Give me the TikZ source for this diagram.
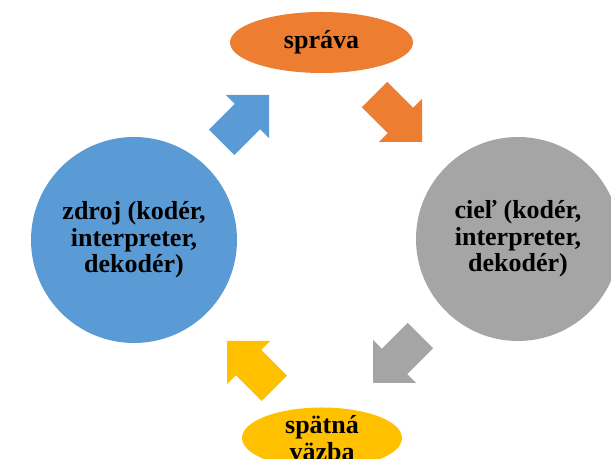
\documentclass[tikz,border=0pt]{standalone}
\usepackage{fontspec}
\setmainfont{Liberation Serif}
\usetikzlibrary{shapes.geometric}
\definecolor{zdrojblue}{HTML}{5B9BD5}
\definecolor{spravaorange}{HTML}{ED7D31}
\definecolor{cielgray}{HTML}{A5A5A5}
\definecolor{vazbayellow}{HTML}{FFC000}
\begin{document}
\begin{tikzpicture}[x=0.75pt,y=0.75pt]
			\newcommand{\mytext}{%
				\fontsize{19.5}{20}\selectfont\bfseries%
			}\newcommand{\myblockarrow}[3]{%
				\fill [#1,shift={(#2)},rotate=#3] (0,0) -- (-30.5,30.5) -- (-30.5,18) -- (-67,18) -- (-67,-18) -- (-30.5,-18) -- (-30.5,-30.5) -- cycle;%
			}%Page frame
			\clip (0,0) rectangle (611,459);
			%Centers of the two circles and the two ellipses
			\coordinate (centerZdroj) at (134,219);
			\coordinate (centerCiel) at (518,220);
			\coordinate (centerSprava) at (321.5,416.5);
			\coordinate (centerVazba) at (322,21);
			%The circles
			\node [circle,fill=zdrojblue,minimum size=154.5pt,inner sep=0pt] (zdroj) at (centerZdroj) {};
			\node [circle,fill=cielgray,minimum size=153pt,inner sep=0pt] (ciel) at (centerCiel) {};
			\node [align=center,inner sep=0pt,font=\mytext] (zdrojtext) at (zdroj.center) {zdroj (kodér,\\interpreter,\\dekodér)};
			\node [align=center,inner sep=0pt,font=\mytext] (cieltext) at (ciel.center) {cieľ (kodér,\\interpreter,\\dekodér)};
			%The ellipses
			\node [ellipse,fill=spravaorange,minimum width=137.25pt,minimum height=45.75pt,inner sep=0pt] (sprava) at (centerSprava) {};
			\node [ellipse,fill=vazbayellow,minimum width=120pt,minimum height=45.75pt,inner sep=0pt] (vazba) at (centerVazba) {};
			\node [align=center,inner sep=0pt,font=\mytext] (spravatext) at (sprava.center) {správa};
			\node [align=center,inner sep=0pt,font=\mytext] (vazbatext) at (vazba.center) {spätná\\väzba};
			%Tips of the block arrows
			\coordinate (tipBlue) at (269,364);
			\coordinate (tipOrange) at (422,317);
			\coordinate (tipGray) at (373,76);
			\coordinate (tipYellow) at (227,118);
			\myblockarrow{zdrojblue}{tipBlue}{45}
			\myblockarrow{spravaorange}{tipOrange}{-45}
			\myblockarrow{cielgray}{tipGray}{-135}
			\myblockarrow{vazbayellow}{tipYellow}{135}
			\end{tikzpicture}
\end{document}
